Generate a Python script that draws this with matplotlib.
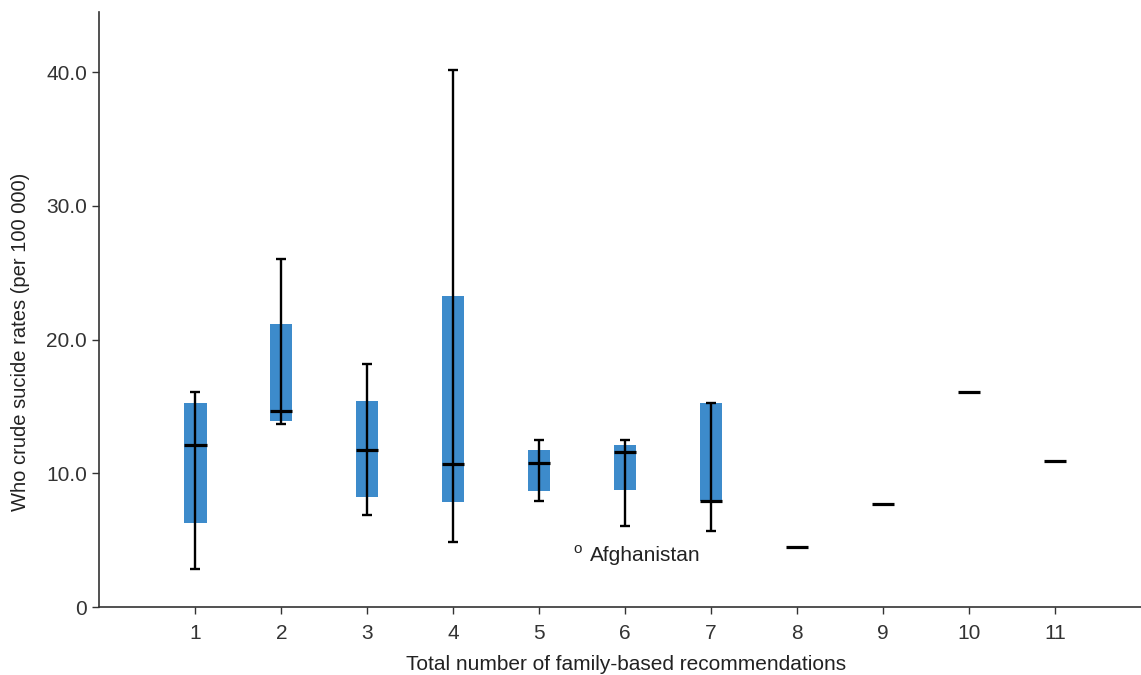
#!/usr/bin/env python3

import matplotlib
matplotlib.use('Agg')
import matplotlib.pyplot as plt
import numpy as np

# ---------------- DATA ----------------
groups = [1, 2, 3, 4, 5, 6, 7]
whisker_low = [2.84, 13.68, 6.88, 4.86, 7.95, 6.06, 5.68]
box_low = [6.28, 13.9, 8.22, 7.85, 8.70, 8.75, 7.90]
medians = [12.1, 14.65, 11.74, 10.69, 10.74, 11.56, 7.90]
box_high = [15.25, 21.16, 15.4, 23.25, 11.74, 12.11, 15.25]
whisker_high = [16.07, 26.0, 18.17, 40.2, 12.49, 12.46, 15.25]

single_groups = [8, 9, 10, 11]
single_values = [4.49, 7.70, 16.07, 10.92]

outlier_x = 5.40
outlier_y = 4.34
outlier_label = 'Afghanistan'

xticks = list(range(1, 12))
yticks = [0, 10, 20, 30, 40]
ytick_labels = ['0', '10.0', '20.0', '30.0', '40.0']

# ---------------- FIGURE ----------------
plt.rcParams['font.family'] = ['Liberation Sans', 'DejaVu Sans']

fig = plt.figure(figsize=(11.41, 6.75), dpi=100)
ax = fig.add_axes([0.0868, 0.1007, 0.9132, 0.8813])

blue = '#3D8BCB'
box_w = 0.26
cap_w = 0.12

ax.bar(
    groups,
    np.array(box_high) - np.array(box_low),
    bottom=box_low,
    width=box_w,
    color=blue,
    zorder=2
)

ax.vlines(groups, whisker_low, whisker_high, color='black', linewidth=1.7, zorder=3)
ax.hlines(whisker_high, np.array(groups) - cap_w / 2, np.array(groups) + cap_w / 2,
          color='black', linewidth=1.7, zorder=3)
ax.hlines(whisker_low, np.array(groups) - cap_w / 2, np.array(groups) + cap_w / 2,
          color='black', linewidth=1.7, zorder=3)
ax.hlines(medians, np.array(groups) - box_w / 2, np.array(groups) + box_w / 2,
          color='black', linewidth=2.3, zorder=4)

ax.hlines(single_values, np.array(single_groups) - box_w / 2,
          np.array(single_groups) + box_w / 2,
          color='black', linewidth=2.3, zorder=4)

# outlier marker and its label
ax.text(outlier_x, outlier_y, 'o', fontsize=11, color='#222222',
        ha='left', va='center')
ax.text(outlier_x + 0.19, outlier_y - 0.45, outlier_label, fontsize=15,
        color='#222222', ha='left', va='center')

ax.set_xlim(-0.12, 12.0)
ax.set_ylim(0, 44.5)

ax.set_xticks(xticks)
ax.set_xticklabels([str(t) for t in xticks])
ax.set_yticks(yticks)
ax.set_yticklabels(ytick_labels)

ax.tick_params(axis='both', labelsize=15, colors='#333333', length=5, width=1)
ax.tick_params(axis='x', pad=7)

for side in ['top', 'right']:
    ax.spines[side].set_visible(False)
for side in ['left', 'bottom']:
    ax.spines[side].set_color('#333333')
    ax.spines[side].set_linewidth(1.2)

ax.set_xlabel('Total number of family-based recommendations', fontsize=15,
              color='#222222', labelpad=9)
ax.set_ylabel('Who crude sucide rates (per 100 000)', fontsize=14.5,
              color='#222222', labelpad=12)
ax.xaxis.label.set_x(0.506)
ax.yaxis.label.set_y(0.445)

plt.savefig('out.png', dpi=100)
